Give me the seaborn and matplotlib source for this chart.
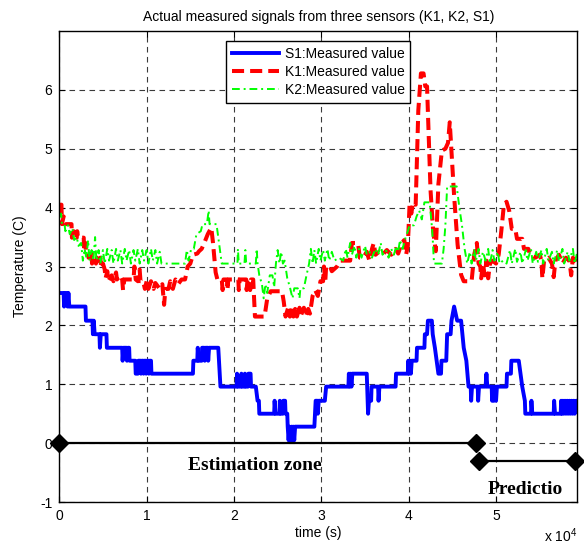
import numpy as np
import pandas as pd
import matplotlib
matplotlib.use("Agg")
import matplotlib.pyplot as plt
import seaborn as sns

# ---------------- data (time in units of 1e4 s) ----------------
s1_t = [0.00, 0.05, 0.055, 0.065, 0.09, 0.095, 0.105, 0.115, 0.30, 0.305, 0.38, 0.385, 0.395, 0.405,
        0.46, 0.465, 0.475, 0.54, 0.545, 0.72, 0.725, 0.735, 0.77, 0.775, 0.785, 0.80, 0.805, 0.87,
        0.875, 0.90, 0.905, 0.93, 0.935, 0.945, 0.96, 0.965, 0.975, 0.99, 0.995, 1.005, 1.02, 1.025,
        1.035, 1.05, 1.055, 1.53, 1.535, 1.58, 1.585, 1.595, 1.63, 1.635, 1.66, 1.665, 1.675, 1.70,
        1.705, 1.715, 1.82, 1.845, 2.03, 2.035, 2.045, 2.08, 2.085, 2.095, 2.12, 2.125, 2.135, 2.16,
        2.165, 2.19, 2.195, 2.25, 2.27, 2.285, 2.29, 2.46, 2.465, 2.475, 2.52, 2.525, 2.535, 2.56,
        2.565, 2.585, 2.59, 2.61, 2.615, 2.625, 2.635, 2.645, 2.66, 2.67, 2.68, 2.69, 2.70, 2.92,
        2.935, 2.955, 2.96, 2.97, 3.04, 3.055, 3.31, 3.315, 3.325, 3.335, 3.345, 3.355, 3.52, 3.53,
        3.535, 3.545, 3.57, 3.575, 3.65, 3.655, 3.665, 3.85, 3.855, 3.99, 3.995, 4.005, 4.015, 4.025,
        4.035, 4.09, 4.095, 4.18, 4.185, 4.21, 4.22, 4.265, 4.275, 4.30, 4.34, 4.37, 4.375, 4.43,
        4.44, 4.48, 4.49, 4.52, 4.555, 4.60, 4.63, 4.66, 4.685, 4.71, 4.715, 4.725, 4.79, 4.795,
        4.805, 4.88, 4.89, 4.90, 4.95, 4.955, 4.965, 4.975, 4.99, 5.00, 5.01, 5.12, 5.125, 5.17,
        5.175, 5.26, 5.30, 5.33, 5.335, 5.40, 5.405, 5.415, 5.66, 5.665, 5.675, 5.74, 5.745, 5.755,
        5.765, 5.775, 5.79, 5.80, 5.815, 5.825, 5.84, 5.85, 5.865, 5.875, 5.89, 5.90, 5.92, 5.93]
s1_v = [2.55, 2.55, 2.32, 2.55, 2.55, 2.32, 2.55, 2.32, 2.32, 2.08, 2.08, 1.85, 2.08, 1.85,
        1.85, 1.62, 1.85, 1.85, 1.62, 1.62, 1.40, 1.62, 1.62, 1.40, 1.62, 1.62, 1.40, 1.40,
        1.18, 1.18, 1.40, 1.40, 1.18, 1.40, 1.40, 1.18, 1.40, 1.40, 1.18, 1.40, 1.40, 1.18,
        1.40, 1.40, 1.18, 1.18, 1.40, 1.40, 1.62, 1.40, 1.40, 1.62, 1.62, 1.40, 1.62, 1.62,
        1.40, 1.62, 1.62, 0.96, 0.96, 1.18, 0.96, 0.96, 1.18, 0.96, 0.96, 1.18, 0.96, 0.96,
        1.18, 1.18, 0.96, 0.96, 0.72, 0.72, 0.50, 0.50, 0.72, 0.50, 0.50, 0.72, 0.50, 0.50,
        0.72, 0.72, 0.50, 0.50, 0.28, 0.05, 0.28, 0.05, 0.28, 0.05, 0.28, 0.05, 0.28, 0.28,
        0.72, 0.72, 0.50, 0.72, 0.72, 0.96, 0.96, 1.18, 0.96, 1.18, 0.96, 1.18, 1.18, 0.72,
        0.50, 0.72, 0.72, 0.96, 0.96, 0.72, 0.96, 0.96, 1.18, 1.18, 1.40, 1.18, 1.40, 1.18,
        1.40, 1.40, 1.62, 1.62, 1.85, 1.85, 2.08, 2.08, 1.85, 1.62, 1.18, 1.18, 1.40, 1.40,
        1.85, 1.85, 2.08, 2.32, 2.08, 2.08, 1.62, 1.40, 0.96, 0.96, 0.72, 0.96, 0.96, 0.72,
        0.96, 0.96, 1.18, 0.96, 0.96, 0.72, 0.96, 0.72, 0.96, 0.72, 0.96, 0.96, 1.18, 1.18,
        1.40, 1.40, 0.96, 0.72, 0.50, 0.50, 0.72, 0.50, 0.50, 0.72, 0.50, 0.50, 0.72, 0.50,
        0.72, 0.50, 0.72, 0.50, 0.72, 0.50, 0.72, 0.50, 0.72, 0.50, 0.72, 0.50, 0.72, 0.72]

k1_t = [0.00, 0.025, 0.03, 0.05, 0.06, 0.14, 0.145, 0.165, 0.17, 0.20, 0.205, 0.215, 0.28, 0.285,
        0.30, 0.305, 0.33, 0.335, 0.36, 0.365, 0.375, 0.40, 0.42, 0.43, 0.45, 0.47, 0.48, 0.50,
        0.52, 0.53, 0.55, 0.56, 0.60, 0.62, 0.65, 0.66, 0.70, 0.72, 0.73, 0.745, 0.80, 0.85,
        0.86, 0.875, 0.90, 0.92, 0.93, 0.96, 0.98, 1.00, 1.02, 1.05, 1.08, 1.10, 1.15, 1.18,
        1.20, 1.215, 1.25, 1.27, 1.30, 1.33, 1.36, 1.40, 1.44, 1.47, 1.50, 1.53, 1.58, 1.60,
        1.63, 1.66, 1.70, 1.74, 1.76, 1.79, 1.81, 1.86, 1.87, 1.88, 1.92, 1.925, 1.935, 2.05,
        2.055, 2.065, 2.14, 2.145, 2.155, 2.18, 2.185, 2.195, 2.22, 2.24, 2.35, 2.38, 2.42, 2.55,
        2.57, 2.59, 2.62, 2.64, 2.66, 2.68, 2.70, 2.72, 2.75, 2.77, 2.80, 2.82, 2.85, 2.87,
        2.90, 2.93, 2.96, 2.99, 3.02, 3.03, 3.045, 3.055, 3.10, 3.12, 3.18, 3.22, 3.33, 3.35,
        3.42, 3.44, 3.48, 3.52, 3.55, 3.58, 3.60, 3.62, 3.66, 3.70, 3.75, 3.80, 3.85, 3.88,
        3.92, 3.95, 3.97, 3.99, 4.01, 4.03, 4.05, 4.08, 4.11, 4.14, 4.17, 4.19, 4.21, 4.25,
        4.28, 4.31, 4.34, 4.38, 4.42, 4.45, 4.47, 4.48, 4.52, 4.56, 4.60, 4.63, 4.72, 4.75,
        4.78, 4.80, 4.82, 4.83, 4.85, 4.87, 4.89, 4.91, 4.93, 4.96, 5.00, 5.03, 5.06, 5.09,
        5.12, 5.15, 5.18, 5.22, 5.24, 5.30, 5.32, 5.37, 5.39, 5.45, 5.50, 5.52, 5.53, 5.55,
        5.60, 5.64, 5.66, 5.68, 5.72, 5.76, 5.80, 5.84, 5.86, 5.88, 5.91, 5.93]
k1_v = [4.05, 4.05, 3.72, 3.85, 3.72, 3.72, 3.49, 3.60, 3.49, 3.49, 3.60, 3.49, 3.49, 3.26,
        3.40, 3.26, 3.26, 3.15, 3.15, 3.26, 3.05, 3.15, 3.05, 3.15, 3.02, 3.15, 2.97, 3.05,
        2.95, 2.80, 2.92, 2.75, 2.85, 2.75, 2.90, 2.78, 2.85, 2.78, 2.60, 2.78, 2.78, 2.78,
        3.00, 2.78, 2.75, 2.95, 2.75, 2.75, 2.62, 2.75, 2.62, 2.75, 2.62, 2.72, 2.62, 2.70,
        2.35, 2.62, 2.62, 2.75, 2.62, 2.78, 2.70, 2.78, 2.78, 3.00, 3.05, 3.20, 3.22, 3.26,
        3.30, 3.40, 3.55, 3.66, 3.40, 2.90, 2.78, 2.78, 2.60, 2.78, 2.78, 2.60, 2.78, 2.78,
        2.60, 2.78, 2.78, 2.60, 2.78, 2.78, 2.60, 2.78, 2.78, 2.15, 2.15, 2.45, 2.58, 2.58,
        2.40, 2.15, 2.30, 2.15, 2.30, 2.15, 2.28, 2.15, 2.30, 2.18, 2.30, 2.15, 2.28, 2.20,
        2.50, 2.60, 2.50, 2.75, 2.75, 3.00, 2.75, 3.00, 3.00, 2.92, 3.00, 3.10, 3.10, 3.40,
        3.40, 3.15, 3.15, 3.25, 3.10, 3.30, 3.40, 3.20, 3.25, 3.20, 3.28, 3.20, 3.30, 3.22,
        3.40, 3.45, 3.20, 3.35, 4.05, 3.90, 4.09, 4.05, 5.65, 6.28, 6.28, 6.06, 6.06, 4.30,
        3.60, 3.26, 4.40, 4.97, 5.00, 5.10, 5.45, 5.20, 4.20, 3.37, 2.86, 2.75, 2.75, 3.20,
        3.40, 3.05, 3.00, 2.80, 3.05, 2.85, 3.10, 2.80, 3.05, 3.10, 3.05, 3.20, 3.60, 4.05,
        4.10, 3.95, 3.64, 3.64, 3.47, 3.47, 3.30, 3.30, 3.20, 3.15, 3.20, 3.10, 2.80, 3.10,
        3.15, 3.05, 2.82, 3.10, 3.20, 3.05, 3.15, 3.10, 2.85, 3.15, 3.10, 3.05]

k2_t = [0.00, 0.02, 0.03, 0.06, 0.07, 0.10, 0.12, 0.15, 0.17, 0.20, 0.22, 0.25, 0.27, 0.29,
        0.31, 0.33, 0.345, 0.37, 0.39, 0.41, 0.425, 0.45, 0.47, 0.50, 0.52, 0.55, 0.57, 0.60,
        0.62, 0.65, 0.67, 0.70, 0.72, 0.75, 0.77, 0.80, 0.82, 0.85, 0.87, 0.90, 0.92, 0.95,
        0.97, 1.00, 1.02, 1.05, 1.07, 1.10, 1.12, 1.15, 1.17, 1.44, 1.46, 1.48, 1.51, 1.54,
        1.57, 1.62, 1.64, 1.69, 1.71, 1.72, 1.80, 1.86, 2.04, 2.045, 2.055, 2.12, 2.13, 2.14,
        2.25, 2.26, 2.27, 2.29, 2.32, 2.34, 2.36, 2.38, 2.41, 2.44, 2.46, 2.48, 2.50, 2.52,
        2.54, 2.56, 2.58, 2.61, 2.64, 2.67, 2.69, 2.73, 2.75, 2.76, 2.80, 2.83, 2.86, 2.88,
        2.90, 2.92, 2.94, 2.97, 2.99, 3.02, 3.04, 3.07, 3.09, 3.12, 3.15, 3.20, 3.25, 3.28,
        3.30, 3.33, 3.35, 3.38, 3.40, 3.43, 3.46, 3.50, 3.52, 3.55, 3.58, 3.62, 3.65, 3.68,
        3.70, 3.74, 3.77, 3.80, 3.83, 3.86, 3.88, 3.90, 3.93, 3.96, 3.99, 4.01, 4.06, 4.09,
        4.12, 4.15, 4.18, 4.24, 4.27, 4.29, 4.38, 4.40, 4.42, 4.44, 4.55, 4.58, 4.61, 4.64,
        4.67, 4.70, 4.72, 4.75, 4.77, 4.80, 4.82, 4.85, 4.88, 4.91, 4.93, 4.96, 4.98, 5.02,
        5.04, 5.08, 5.12, 5.16, 5.18, 5.22, 5.24, 5.28, 5.30, 5.34, 5.36, 5.40, 5.42, 5.46,
        5.48, 5.52, 5.54, 5.58, 5.60, 5.64, 5.66, 5.70, 5.72, 5.76, 5.78, 5.82, 5.84, 5.88,
        5.90, 5.93]
k2_v = [3.85, 3.90, 3.72, 3.72, 3.60, 3.70, 3.55, 3.65, 3.45, 3.50, 3.35, 3.40, 3.10, 3.30,
        3.15, 3.45, 3.10, 3.28, 3.10, 3.50, 3.10, 3.28, 3.05, 3.28, 3.05, 3.30, 3.10, 3.28,
        3.05, 3.30, 3.10, 3.28, 3.05, 3.30, 3.10, 3.28, 3.05, 3.28, 3.10, 3.30, 3.05, 3.28,
        3.10, 3.28, 3.05, 3.30, 3.10, 3.28, 3.05, 3.25, 3.05, 3.05, 3.28, 3.10, 3.30, 3.30,
        3.55, 3.60, 3.72, 3.72, 3.95, 3.72, 3.72, 3.05, 3.05, 3.30, 3.05, 3.05, 3.28, 3.05,
        3.05, 3.30, 3.05, 2.85, 2.70, 2.46, 2.70, 2.55, 2.85, 2.85, 2.65, 3.05, 3.28, 3.05,
        3.25, 3.05, 3.10, 2.80, 2.65, 2.46, 2.63, 2.63, 2.46, 2.63, 2.63, 2.85, 3.05, 3.30,
        3.05, 3.28, 3.05, 3.30, 3.10, 3.28, 3.10, 3.30, 3.10, 3.25, 3.10, 3.15, 3.10, 3.30,
        3.15, 3.40, 3.20, 3.35, 3.15, 3.30, 3.15, 3.35, 3.20, 3.25, 3.15, 3.30, 3.20, 3.40,
        3.20, 3.28, 3.15, 3.30, 3.20, 3.35, 3.25, 3.45, 3.30, 3.47, 3.60, 3.70, 3.70, 3.85,
        3.95, 3.80, 4.09, 4.09, 3.60, 3.05, 3.05, 3.30, 3.70, 4.36, 4.36, 4.00, 3.70, 3.30,
        3.05, 3.25, 3.05, 3.28, 3.10, 3.30, 3.05, 3.25, 3.10, 3.30, 3.05, 3.28, 3.10, 3.25,
        3.05, 3.10, 3.05, 3.28, 3.05, 3.30, 3.08, 3.25, 3.05, 3.28, 3.10, 3.30, 3.05, 3.25,
        3.08, 3.28, 3.05, 3.30, 3.10, 3.25, 3.05, 3.28, 3.08, 3.30, 3.05, 3.25, 3.10, 3.30,
        3.05, 3.25]

series_labels = ["S1:Measured value", "K1:Measured value", "K2:Measured value"]

# zone markers (time in 1e4 s, value)
est_zone_t = [0.0, 4.77]
est_zone_v = [0.0, 0.0]
pred_zone_t = [4.80, 5.90]
pred_zone_v = [-0.3, -0.3]

x_ticks = [0, 1, 2, 3, 4, 5]
x_tick_labels = ["0", "1", "2", "3", "4", "5"]
y_ticks = [-1, 0, 1, 2, 3, 4, 5, 6]
SCALE = 1e4

# ---------------- styling ----------------
plt.rcParams["font.family"] = ["Liberation Sans", "DejaVu Sans"]
plt.rcParams["mathtext.fontset"] = "custom"
plt.rcParams["mathtext.rm"] = "Liberation Sans"

fig = plt.figure(figsize=(5.84, 5.48), dpi=100)
ax = fig.add_axes([0.1015, 0.0839, 0.887, 0.8595])

def frame(t, v):
    return pd.DataFrame({"time": np.asarray(t) * SCALE, "value": v})

sns.lineplot(data=frame(s1_t, s1_v), x="time", y="value", ax=ax, sort=False, estimator=None,
             color="#0000ff", linewidth=2.8, label=series_labels[0])
sns.lineplot(data=frame(k1_t, k1_v), x="time", y="value", ax=ax, sort=False, estimator=None,
             color="#ff0000", linewidth=2.9, linestyle=(0, (3.0, 1.5)), label=series_labels[1])
sns.lineplot(data=frame(k2_t, k2_v), x="time", y="value", ax=ax, sort=False, estimator=None,
             color="#00ff00", linewidth=1.4, linestyle=(0, (4, 2, 1, 2)), label=series_labels[2])

# zone lines with diamond ends
ax.plot(np.asarray(est_zone_t) * SCALE, est_zone_v, color="black", lw=1.6,
        marker="D", markersize=9, zorder=5, clip_on=False)
ax.plot(np.asarray(pred_zone_t) * SCALE, pred_zone_v, color="black", lw=1.6,
        marker="D", markersize=9, zorder=5, clip_on=False)
ax.text(2.24 * SCALE, -0.38, "Estimation zone", ha="center", va="center",
        family=["Liberation Serif", "DejaVu Serif"], fontweight="bold", fontsize=14)
ax.text(4.90 * SCALE, -0.78, "Predictio", ha="left", va="center",
        family=["Liberation Serif", "DejaVu Serif"], fontweight="bold", fontsize=14)

ax.set_xlim(0, 5.93 * SCALE)
ax.set_ylim(-1, 7)
ax.set_xticks([t * SCALE for t in x_ticks])
ax.set_xticklabels(x_tick_labels)
ax.set_yticks(y_ticks)
ax.set_yticklabels([str(y) for y in y_ticks])
ax.tick_params(direction="in", length=4, width=0.8, labelsize=10, pad=5,
               top=True, right=True)

ax.grid(True, color="#3a3a3a", linestyle=(0, (5, 4)), linewidth=0.8)
for sp in ax.spines.values():
    sp.set_color("black")
    sp.set_linewidth(1.0)

ax.set_title("Actual measured signals from three sensors (K1, K2, S1)", fontsize=10, pad=7)
ax.set_xlabel("time (s)", fontsize=10)
ax.set_ylabel("Temperature (C)", fontsize=10)
ax.xaxis.set_label_coords(0.5, -0.05)
ax.yaxis.set_label_coords(-0.062, 0.5)

fig.text(577 / 584, 1 - 536 / 548, r"x 10$^{4}$", ha="right", va="center", fontsize=10)

leg = ax.legend(loc="upper center", bbox_to_anchor=(0.5, 0.978), fontsize=10,
                frameon=True, fancybox=False, edgecolor="black", framealpha=1,
                handlelength=3.4, handletextpad=0.4, labelspacing=0.3, borderpad=0.4,
                borderaxespad=0)
leg.get_frame().set_linewidth(1.0)

fig.savefig("out.png", dpi=100)
